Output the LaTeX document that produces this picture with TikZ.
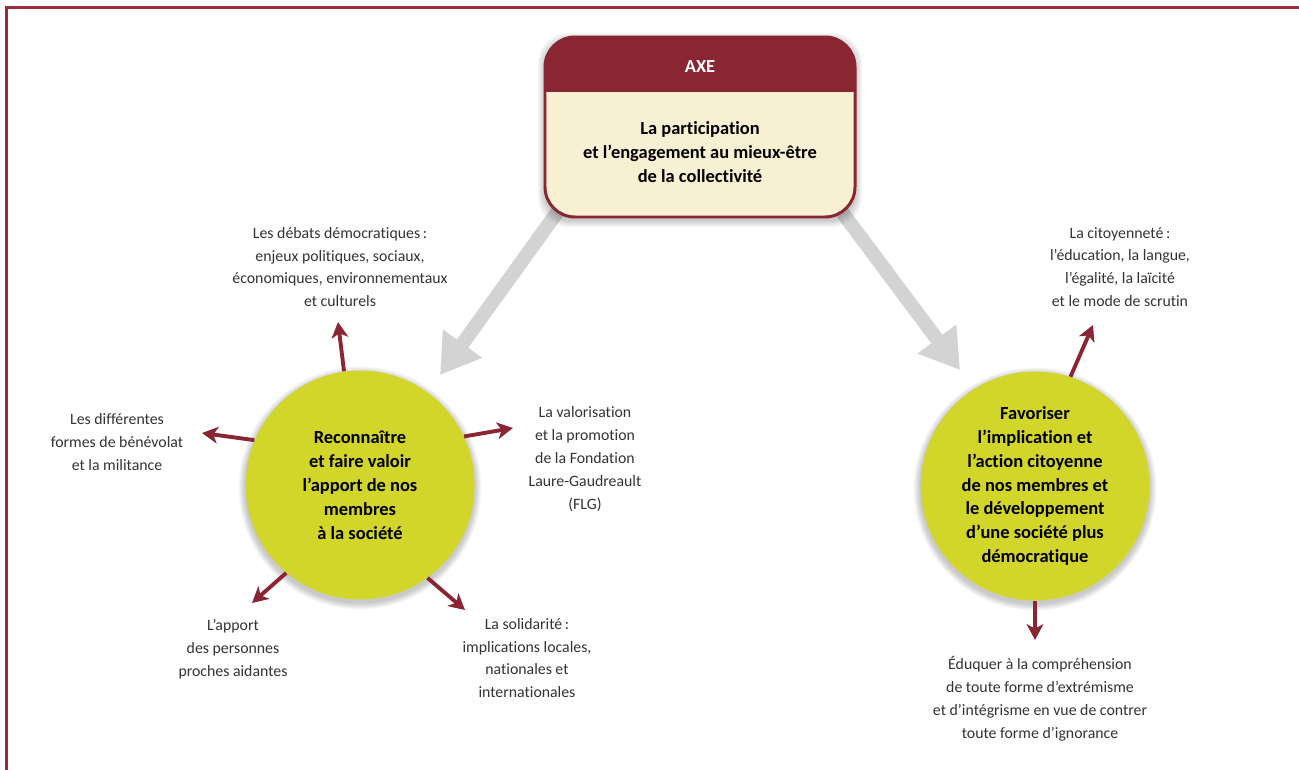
\documentclass[tikz,border=0pt]{standalone}
\usepackage{fontspec}
\setmainfont{Carlito}[Ligatures={NoCommon}]
\usetikzlibrary{arrows.meta}
\definecolor{frame}{HTML}{9B2A3A}
\definecolor{wine}{HTML}{8A2532}
\definecolor{cream}{HTML}{F8F0D2}
\definecolor{lime}{HTML}{D2D52A}
\definecolor{greyarrow}{HTML}{D3D3D3}
\definecolor{txt}{HTML}{333333}
\begin{document}
\begin{tikzpicture}[x=0.02cm,y=-0.02cm,
  small/.style={font=\fontsize{9}{13}\selectfont, text=txt, align=center, inner sep=0pt},
  bigt/.style={font=\bfseries\fontsize{10.5}{13.8}\selectfont, text=black, align=center, inner sep=0pt},
  goal/.style={circle, fill=lime, minimum size=4.58cm, inner sep=0pt, align=center,
     font=\bfseries\fontsize{10.5}{13.6}\selectfont, text=black},
  redarrow/.style={draw=wine, line width=2.2pt, -{Stealth[length=9pt,width=9.5pt,inset=2.5pt]}},
  greyarr/.style={draw=greyarrow, line width=8pt, -{Triangle[length=22pt,width=26pt]}},
  softshadow/.style={black, opacity=0.03}
]
\useasboundingbox (0,0) rectangle (1299,770);
\fill[white] (0,0) rectangle (1299,770);
% frame
\fill[frame] (5,6) rectangle (1299,9);
\fill[frame] (5,6) rectangle (8,770);

% grey arrows (behind box)
\coordinate (gl0) at (566,200);
\coordinate (gl1) at (440,375);
\coordinate (gr0) at (830,196);
\coordinate (gr1) at (960,370);
\draw[greyarr] (gl0) -- (gl1);
\draw[greyarr] (gr0) -- (gr1);

% box shadow
\foreach \k in {1,...,7}{
  \fill[softshadow, rounded corners=0.6cm] (545-\k,37-\k+3) rectangle (855+\k,217+\k+3);
}
% box
\fill[cream, rounded corners=0.6cm] (545,37) rectangle (855,217);
\begin{scope}
  \clip[rounded corners=0.6cm] (545,37) rectangle (855,217);
  \fill[wine] (545,37) rectangle (855,92);
\end{scope}
\draw[wine, line width=1.7pt, rounded corners=0.6cm] (545,37) rectangle (855,217);
\node[font=\bfseries\fontsize{10.5}{13}\selectfont, text=white] (axe) at (700,67) {AXE};
\node[bigt] (T) at (700,152) {La participation\\et l’engagement au mieux-être\\de la collectivité};

% circle shadows
\foreach \k in {1,...,7}{
  \fill[softshadow] (360,488) circle[radius=2.29cm+\k*0.02cm];
  \fill[softshadow] (1035,489) circle[radius=2.29cm+\k*0.02cm];
}
\node[goal] (L) at (360,485) {Reconnaître\\et faire valoir\\l’apport de nos\\membres\\à la société};
\node[goal] (R) at (1035,486) {Favoriser\\l’implication et\\l’action citoyenne\\de nos membres et\\le développement\\d’une société plus\\démocratique};

% texts
\node[small] (t1) at (340,267) {Les débats démocratiques\,:\\enjeux politiques, sociaux,\\économiques, environnementaux\\et culturels};
\node[small] (t2) at (117,442) {Les différentes\\formes de bénévolat\\et la militance};
\node[small] (t3) at (585,459) {La valorisation\\et la promotion\\de la Fondation\\Laure-Gaudreault\\(FLG)};
\node[small] (t4) at (233,649) {L’apport\\des personnes\\proches aidantes};
\node[small] (t5) at (527,658) {La solidarité\,:\\implications locales,\\nationales et\\internationales};
\node[small] (t6) at (1120,267) {La citoyenneté\,:\\l’éducation, la langue,\\l’égalité, la laïcité\\et le mode de scrutin};
\node[small] (t7) at (1040,699) {Éduquer à la compréhension\\de toute forme d’extrémisme\\et d’intégrisme en vue de contrer\\toute forme d’ignorance};

% red arrows
\coordinate (a1) at (338,322);
\coordinate (a2) at (202,433);
\coordinate (a3) at (513,428);
\coordinate (a4) at (252,603);
\coordinate (a5) at (465,610);
\coordinate (a6) at (1093,325);
\coordinate (a7) at (1035,640);
\draw[redarrow] (L.98) -- (a1);
\draw[redarrow] (L.157) -- (a2);
\draw[redarrow] (L.25) -- (a3);
\draw[redarrow] (L.230) -- (a4);
\draw[redarrow] (L.306) -- (a5);
\draw[redarrow] (R.72) -- (a6);
\draw[redarrow] (R.270) -- (a7);
\end{tikzpicture}
\end{document}
